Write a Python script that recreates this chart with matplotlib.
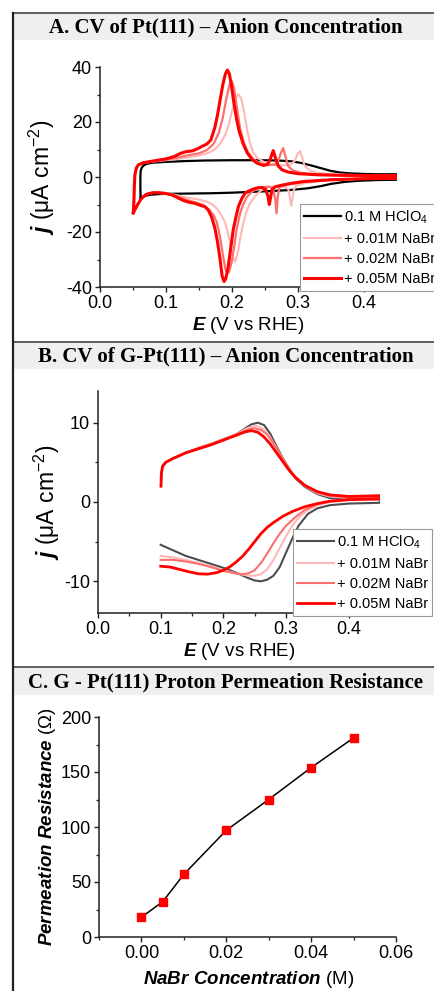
import matplotlib
matplotlib.use("Agg")
import matplotlib.pyplot as plt
from matplotlib.lines import Line2D
from matplotlib.patches import Rectangle
from matplotlib.ticker import MultipleLocator, FormatStrFormatter

plt.rcParams['font.family'] = ['Liberation Sans', 'DejaVu Sans']
plt.rcParams['mathtext.fontset'] = 'custom'
plt.rcParams['mathtext.rm'] = 'Liberation Sans'
plt.rcParams['mathtext.it'] = 'Liberation Sans:italic'
plt.rcParams['mathtext.bf'] = 'Liberation Sans:bold:italic'
plt.rcParams['axes.unicode_minus'] = False

# ---------------- data ----------------
legend_labels = ['0.1 M HClO$_4$', '+ 0.01M NaBr', '+ 0.02M NaBr', '+ 0.05M NaBr']

# Panel A: CV of Pt(111)
a_hclo4_E = [0.0615, 0.0612, 0.0612, 0.0615, 0.063, 0.066, 0.071, 0.08, 0.10, 0.13, 0.16, 0.20, 0.24,
             0.27, 0.29, 0.305, 0.32, 0.335, 0.35, 0.365, 0.38, 0.40, 0.42, 0.45,
             0.45, 0.42, 0.39, 0.37, 0.35, 0.335, 0.315, 0.29, 0.26, 0.23, 0.20, 0.17, 0.14, 0.11,
             0.09, 0.075, 0.068, 0.0635, 0.0615]
a_hclo4_j = [-7.6, -4.0, 0.0, 2.0, 3.3, 4.2, 4.8, 5.2, 5.5, 5.8, 6.0, 6.1, 6.1,
             6.0, 5.7, 5.1, 4.2, 3.2, 2.2, 1.6, 1.3, 1.1, 1.0, 1.0,
             -1.0, -1.1, -1.4, -1.8, -2.5, -3.3, -4.1, -4.7, -5.1, -5.4, -5.7, -5.9, -6.0, -6.1,
             -6.2, -6.5, -6.9, -7.3, -7.6]

a_001_E = [0.0505, 0.0515, 0.052, 0.053, 0.055, 0.058, 0.066, 0.08, 0.10, 0.126, 0.15, 0.165, 0.175,
           0.184, 0.19, 0.195, 0.2, 0.205, 0.2096, 0.214, 0.218, 0.222, 0.227, 0.232, 0.238, 0.248,
           0.26, 0.275, 0.288, 0.295, 0.2995, 0.303, 0.3065, 0.31, 0.318, 0.33, 0.35, 0.39, 0.45,
           0.45, 0.40, 0.36, 0.33, 0.31, 0.298, 0.294, 0.2915, 0.2898, 0.288, 0.2855, 0.28, 0.27,
           0.258, 0.248, 0.242, 0.235, 0.227, 0.222, 0.217, 0.213, 0.2096, 0.2065, 0.2045, 0.2015,
           0.197, 0.193, 0.1894, 0.183, 0.177, 0.17, 0.162, 0.15, 0.138, 0.126, 0.112, 0.10, 0.09,
           0.08, 0.07, 0.062, 0.056, 0.0505]
a_001_j = [-13.0, -8.0, -3.0, 1.0, 3.2, 4.4, 5.1, 5.6, 6.1, 6.8, 7.8, 8.8, 10.2,
           12.8, 15.5, 19.0, 24.0, 28.5, 30.2, 28.5, 24.0, 18.5, 12.5, 9.0, 7.0, 5.5,
           4.6, 4.2, 4.4, 5.8, 8.5, 9.4, 7.0, 4.0, 2.4, 1.5, 1.0, 0.7, 0.6,
           -0.6, -0.7, -1.0, -1.6, -2.3, -3.0, -4.5, -8.0, -10.5, -8.0, -4.5, -3.6, -3.4,
           -3.5, -4.3, -5.3, -7.0, -9.6, -12.5, -16.8, -21.5, -26.5, -29.5, -30.8, -29.0,
           -24.0, -19.5, -16.5, -13.5, -11.4, -10.0, -9.0, -8.2, -7.7, -7.2, -6.4, -6.0, -5.8,
           -5.8, -6.4, -8.0, -10.5, -13.0]

a_002_E = [0.0505, 0.0515, 0.052, 0.053, 0.055, 0.058, 0.066, 0.08, 0.10, 0.12, 0.135, 0.15, 0.162,
           0.172, 0.18, 0.186, 0.191, 0.196, 0.1995, 0.203, 0.207, 0.212, 0.218, 0.224, 0.232, 0.242,
           0.255, 0.265, 0.27, 0.2745, 0.2775, 0.281, 0.285, 0.292, 0.305, 0.33, 0.37, 0.45,
           0.45, 0.40, 0.35, 0.31, 0.29, 0.28, 0.272, 0.2695, 0.2675, 0.2655, 0.262, 0.255, 0.245,
           0.237, 0.229, 0.222, 0.216, 0.212, 0.207, 0.2035, 0.1995, 0.1955, 0.193, 0.19, 0.186,
           0.182, 0.177, 0.172, 0.165, 0.157, 0.147, 0.135, 0.125, 0.115, 0.10, 0.09, 0.08, 0.07,
           0.062, 0.056, 0.0505]
a_002_j = [-13.0, -8.0, -3.0, 1.0, 3.2, 4.4, 5.2, 5.7, 6.3, 7.2, 8.0, 8.6, 9.8,
           12.0, 16.0, 21.5, 28.0, 33.5, 35.0, 32.5, 26.0, 18.0, 12.5, 9.0, 6.5, 5.0,
           4.3, 4.5, 5.8, 9.0, 10.5, 7.5, 4.0, 2.4, 1.5, 0.9, 0.6, 0.5,
           -0.5, -0.6, -1.0, -1.8, -2.5, -3.0, -3.5, -7.0, -13.2, -8.0, -4.0, -3.5, -3.8,
           -4.3, -5.6, -7.5, -10.5, -13.5, -19.0, -25.0, -31.0, -34.5, -35.0, -33.5, -28.0,
           -22.0, -16.5, -13.8, -11.8, -10.3, -9.4, -8.6, -7.8, -6.9, -6.1, -5.8, -5.8, -6.4,
           -8.0, -10.5, -13.0]

a_005_E = [0.0505, 0.0515, 0.052, 0.053, 0.055, 0.058, 0.066, 0.08, 0.10, 0.112, 0.122, 0.13, 0.14,
           0.148, 0.155, 0.162, 0.168, 0.174, 0.178, 0.182, 0.186, 0.19, 0.193, 0.196, 0.199, 0.203,
           0.207, 0.211, 0.217, 0.223, 0.23, 0.238, 0.248, 0.254, 0.258, 0.2625, 0.266, 0.27, 0.276,
           0.285, 0.30, 0.33, 0.37, 0.45,
           0.45, 0.40, 0.35, 0.31, 0.29, 0.275, 0.265, 0.2605, 0.2585, 0.2565, 0.2545, 0.251, 0.245,
           0.237, 0.228, 0.22, 0.215, 0.21, 0.206, 0.202, 0.198, 0.194, 0.1905, 0.188, 0.185, 0.182,
           0.178, 0.174, 0.169, 0.164, 0.159, 0.152, 0.144, 0.135, 0.127, 0.118, 0.11, 0.10, 0.09,
           0.08, 0.07, 0.062, 0.056, 0.0505]
a_005_j = [-13.0, -8.0, -3.0, 1.0, 3.2, 4.4, 5.2, 5.8, 6.6, 7.4, 8.6, 9.2, 9.5,
           10.3, 11.2, 12.0, 13.5, 18.0, 22.5, 28.0, 33.5, 37.5, 38.9, 37.5, 33.5, 26.8,
           21.0, 16.5, 12.0, 8.8, 6.5, 5.0, 4.2, 4.6, 6.5, 9.6, 6.8, 4.0, 2.6,
           1.8, 1.2, 0.8, 0.6, 0.5,
           -0.5, -0.6, -1.0, -1.6, -2.3, -3.0, -3.6, -4.6, -7.5, -10.0, -7.0, -4.5, -3.8,
           -4.0, -4.8, -5.8, -7.8, -10.5, -14.5, -19.0, -26.0, -33.0, -37.0, -38.0, -36.0, -30.0,
           -23.5, -18.5, -14.5, -12.0, -10.8, -10.3, -9.6, -9.2, -8.6, -7.6, -6.6, -6.0, -5.7,
           -5.7, -6.3, -8.0, -10.5, -13.0]

# Panel B: CV of G-Pt(111)
b_hclo4_E = [0.1005, 0.101, 0.103, 0.108, 0.12, 0.14, 0.16, 0.18, 0.20, 0.22, 0.235, 0.245, 0.255,
             0.265, 0.275, 0.285, 0.295, 0.305, 0.315, 0.33, 0.35, 0.37, 0.40, 0.45,
             0.45, 0.40, 0.37, 0.35, 0.335, 0.32, 0.31, 0.30, 0.29, 0.28, 0.27, 0.26, 0.25, 0.24,
             0.22, 0.20, 0.18, 0.16, 0.14, 0.12, 0.10]
b_hclo4_j = [2.0, 3.5, 4.5, 5.0, 5.5, 6.2, 6.8, 7.3, 7.9, 8.5, 9.3, 9.8, 10.0,
             9.7, 8.6, 7.0, 5.5, 4.2, 3.0, 1.9, 1.0, 0.5, 0.3, 0.3,
             -0.1, -0.2, -0.4, -0.8, -1.5, -3.0, -4.6, -6.4, -8.2, -9.3, -9.8, -10.0, -9.9, -9.6,
             -8.9, -8.3, -7.8, -7.3, -6.8, -6.1, -5.4]

b_001_E = [0.1005, 0.101, 0.103, 0.108, 0.12, 0.14, 0.16, 0.18, 0.20, 0.22, 0.235, 0.245, 0.253,
           0.262, 0.272, 0.282, 0.292, 0.302, 0.313, 0.33, 0.35, 0.37, 0.40, 0.45,
           0.45, 0.40, 0.37, 0.35, 0.335, 0.32, 0.31, 0.30, 0.29, 0.28, 0.27, 0.26, 0.25, 0.24,
           0.22, 0.20, 0.18, 0.16, 0.14, 0.12, 0.10]
b_001_j = [2.0, 3.5, 4.5, 5.0, 5.5, 6.2, 6.8, 7.3, 7.9, 8.5, 9.2, 9.5, 9.6,
           9.3, 8.5, 7.2, 5.8, 4.4, 3.2, 2.0, 1.1, 0.7, 0.5, 0.6,
           0.3, 0.2, 0.0, -0.4, -1.0, -2.0, -3.0, -4.3, -5.8, -7.3, -8.5, -9.1, -9.3, -9.3,
           -9.0, -8.6, -8.1, -7.7, -7.3, -7.0, -6.8]

b_002_E = [0.1005, 0.101, 0.103, 0.108, 0.12, 0.14, 0.16, 0.18, 0.20, 0.22, 0.235, 0.245, 0.25,
           0.26, 0.27, 0.28, 0.29, 0.30, 0.312, 0.33, 0.35, 0.37, 0.40, 0.45,
           0.45, 0.40, 0.37, 0.35, 0.33, 0.315, 0.30, 0.29, 0.28, 0.27, 0.26, 0.25, 0.24, 0.23,
           0.22, 0.20, 0.18, 0.16, 0.14, 0.12, 0.10]
b_002_j = [2.0, 3.5, 4.5, 5.0, 5.5, 6.2, 6.8, 7.3, 7.9, 8.5, 9.0, 9.25, 9.3,
           9.1, 8.5, 7.4, 6.1, 4.8, 3.4, 2.1, 1.2, 0.8, 0.6, 0.7,
           0.4, 0.3, 0.1, -0.3, -1.0, -1.9, -3.0, -4.0, -5.2, -6.5, -7.7, -8.6, -9.0, -9.1,
           -9.0, -8.7, -8.2, -7.8, -7.5, -7.3, -7.3]

b_005_E = [0.1005, 0.101, 0.103, 0.108, 0.12, 0.14, 0.16, 0.18, 0.20, 0.22, 0.235, 0.245, 0.255,
           0.265, 0.275, 0.285, 0.295, 0.305, 0.315, 0.33, 0.35, 0.37, 0.40, 0.45,
           0.45, 0.40, 0.37, 0.35, 0.33, 0.31, 0.295, 0.28, 0.27, 0.26, 0.25, 0.24, 0.23, 0.22,
           0.21, 0.20, 0.19, 0.175, 0.16, 0.145, 0.13, 0.115, 0.10]
b_005_j = [2.0, 3.5, 4.5, 5.0, 5.5, 6.2, 6.7, 7.2, 7.8, 8.4, 8.85, 9.0, 8.8,
           8.2, 7.3, 6.2, 5.1, 4.0, 3.1, 2.1, 1.3, 0.9, 0.7, 0.8,
           0.4, 0.3, 0.1, -0.2, -0.6, -1.2, -1.8, -2.6, -3.2, -4.0, -5.0, -6.0, -6.9, -7.6,
           -8.2, -8.6, -8.9, -9.1, -9.05, -8.8, -8.5, -8.2, -8.1]

# Panel C: proton permeation resistance
nabr_conc = [0.0, 0.005, 0.01, 0.02, 0.03, 0.04, 0.05]
resistance = [18, 32, 57, 97, 125, 154, 181]

# ---------------- figure ----------------
W, H = 435, 991
fig = plt.figure(figsize=(W / 100, H / 100), dpi=100)


def fx(px):
    return px / W


def fy(py):
    return 1 - py / H


def make_axes(left, top, right, bottom):
    ax = fig.add_axes([fx(left), fy(bottom), (right - left) / W, (bottom - top) / H])
    for side in ['top', 'right']:
        ax.spines[side].set_visible(False)
    for side in ['left', 'bottom']:
        ax.spines[side].set_linewidth(1.1)
        ax.spines[side].set_color('#222222')
    ax.tick_params(which='major', direction='out', length=3.8, width=1.0, color='#222222',
                   labelsize=13, pad=2)
    ax.tick_params(which='minor', direction='out', length=2.2, width=0.9, color='#222222')
    return ax


# header bands, titles and borders
headers = [(14, 40, 'A. CV of Pt(111) – Anion Concentration'),
           (343, 369, 'B. CV of G-Pt(111) – Anion Concentration'),
           (668, 695, 'C. G - Pt(111) Proton Permeation Resistance')]
for top, bot, title in headers:
    fig.patches.append(Rectangle((fx(14), fy(bot)), 1 - fx(14), (bot - top) / H,
                                 transform=fig.transFigure, facecolor='#efefef',
                                 edgecolor='none', zorder=0))
    fig.text(fx(226), fy((top + bot) / 2 + 0.5), title, ha='center', va='center',
             family='Liberation Serif', fontweight='bold', fontsize=15)

for py in [13, 341.5, 667]:
    fig.add_artist(Line2D([fx(13), 1], [fy(py), fy(py)], transform=fig.transFigure,
                          color='#333333', lw=1.1))
fig.add_artist(Line2D([fx(13.5), fx(13.5)], [fy(13), 0], transform=fig.transFigure,
                      color='#222222', lw=1.6))

colors = ['#000000', '#ffb8b8', '#ff6f6f', '#ff0000']

# ---- Panel A ----
axA = make_axes(100, 67, 397, 287)
widths = [1.6, 1.5, 1.6, 2.2]
series_a = [(a_hclo4_E, a_hclo4_j), (a_001_E, a_001_j), (a_002_E, a_002_j), (a_005_E, a_005_j)]
for (e, j), c, w in zip(series_a, colors, widths):
    axA.plot(e, j, color=c, lw=w, solid_joinstyle='round')
axA.set_xlim(0, 0.45)
axA.set_ylim(-40, 40)
axA.xaxis.set_major_locator(MultipleLocator(0.1))
axA.xaxis.set_minor_locator(MultipleLocator(0.05))
axA.xaxis.set_major_formatter(FormatStrFormatter('%.1f'))
axA.yaxis.set_major_locator(MultipleLocator(20))
axA.yaxis.set_minor_locator(MultipleLocator(10))
axA.set_xlabel(r'$\mathbf{E}$ (V vs RHE)', fontsize=13.5, va='center')
axA.xaxis.set_label_coords(0.5, -(326 - 287) / 220)
axA.set_ylabel(r'$\mathbf{j}$ (μA cm$^{-2}$)', fontsize=16.5, va='center')
axA.yaxis.set_label_coords(-(100 - 42) / 297, 0.5)
handles = [Line2D([], [], color=c, lw=w) for c, w in zip(colors, widths)]
legA = axA.legend(handles, legend_labels, loc='upper left', bbox_to_anchor=(fx(300), fy(204)),
                  bbox_transform=fig.transFigure, fancybox=False, framealpha=1,
                  edgecolor='#9a9a9a', fontsize=10.5, handlelength=2.5, handletextpad=0.2,
                  labelspacing=0.42, borderpad=0.3, borderaxespad=0)
legA.get_frame().set_linewidth(0.8)

# ---- Panel B ----
axB = make_axes(98, 391, 380, 613)
colors_b = ['#4d4d4d', '#ffb8b8', '#ff6f6f', '#ff0000']
widths_b = [1.5, 1.5, 1.5, 2.0]
series_b = [(b_hclo4_E, b_hclo4_j), (b_001_E, b_001_j), (b_002_E, b_002_j), (b_005_E, b_005_j)]
for (e, j), c, w in zip(series_b, colors_b, widths_b):
    axB.plot(e, j, color=c, lw=w, solid_joinstyle='round')
axB.set_xlim(0, 0.45)
axB.set_ylim(-14, 14)
axB.xaxis.set_major_locator(MultipleLocator(0.1))
axB.xaxis.set_minor_locator(MultipleLocator(0.05))
axB.xaxis.set_major_formatter(FormatStrFormatter('%.1f'))
axB.yaxis.set_major_locator(MultipleLocator(10))
axB.yaxis.set_minor_locator(MultipleLocator(5))
axB.set_xlabel(r'$\mathbf{E}$ (V vs RHE)', fontsize=13.5, va='center')
axB.xaxis.set_label_coords(0.5, -(652 - 613) / 222)
axB.set_ylabel(r'$\mathbf{j}$ (μA cm$^{-2}$)', fontsize=16.5, va='center')
axB.yaxis.set_label_coords(-(98 - 47) / 282, 0.5)
handles_b = [Line2D([], [], color=c, lw=w) for c, w in zip(colors_b, widths_b)]
legB = axB.legend(handles_b, legend_labels, loc='upper left', bbox_to_anchor=(fx(293), fy(529)),
                  bbox_transform=fig.transFigure, fancybox=False, framealpha=1,
                  edgecolor='#9a9a9a', fontsize=10.5, handlelength=2.5, handletextpad=0.2,
                  labelspacing=0.42, borderpad=0.3, borderaxespad=0)
legB.get_frame().set_linewidth(0.8)

# ---- Panel C ----
axC = make_axes(99, 717, 396, 937)
axC.plot(nabr_conc, resistance, color='black', lw=1.1, marker='s', markersize=5.5,
         markerfacecolor='#ff0000', markeredgecolor='#ff0000')
axC.set_xlim(-0.01, 0.06)
axC.set_ylim(0, 200)
axC.xaxis.set_major_locator(MultipleLocator(0.02))
axC.xaxis.set_minor_locator(MultipleLocator(0.01))
axC.xaxis.set_major_formatter(FormatStrFormatter('%.2f'))
axC.yaxis.set_major_locator(MultipleLocator(50))
axC.yaxis.set_minor_locator(MultipleLocator(25))
axC.set_xlabel(r'$\mathbf{NaBr\ Concentration}$ (M)', fontsize=13.5, va='center')
axC.xaxis.set_label_coords(0.503, -(980 - 937) / 220)
axC.set_ylabel(r'$\mathbf{Permeation\ Resistance}$ (Ω)', fontsize=13.5, va='center')
axC.yaxis.set_label_coords(-(99 - 47.5) / 297, 0.5)

fig.savefig('out.png', dpi=100)
